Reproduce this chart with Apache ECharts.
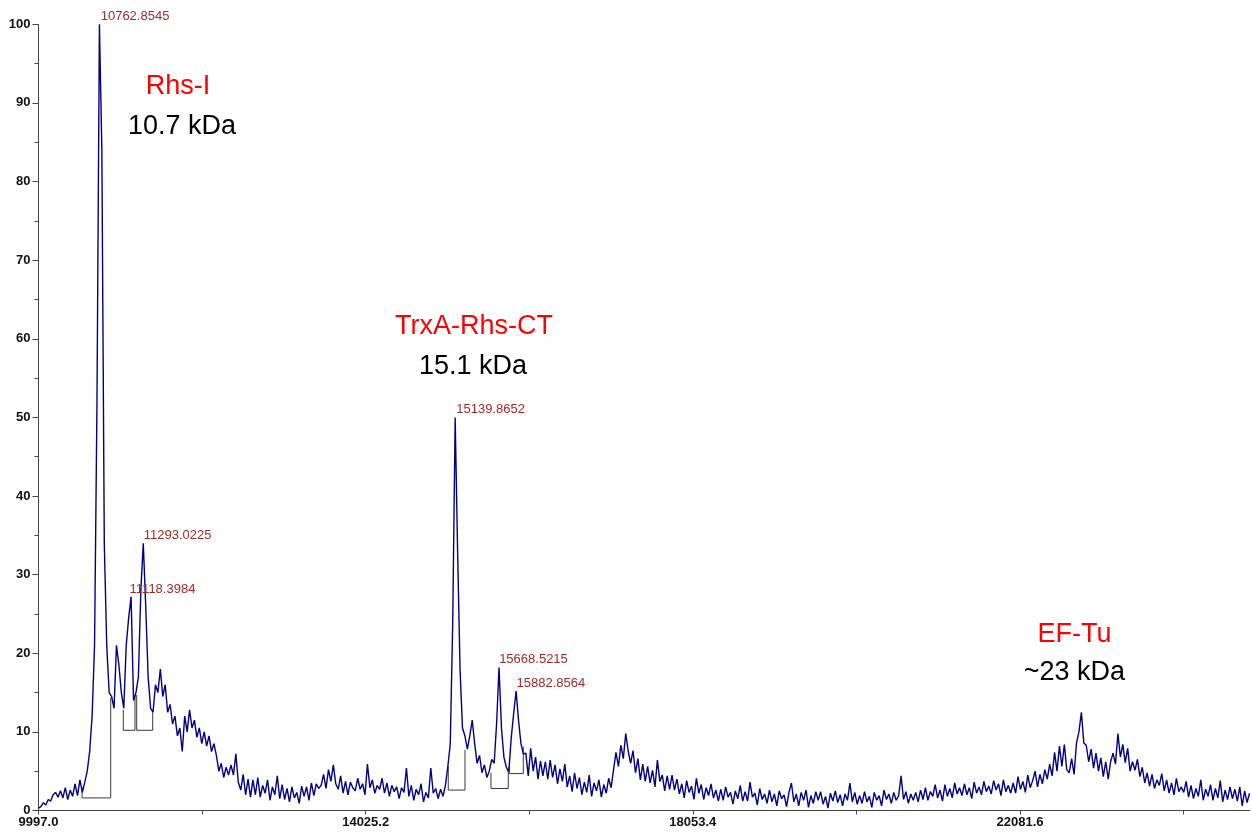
<!DOCTYPE html>
<html><head><meta charset="utf-8">
<script src="https://cdn.jsdelivr.net/npm/echarts@6/dist/echarts.min.js"></script>
<style>html,body{margin:0;padding:0;background:#fff}#c{width:1252px;height:832px}</style>
</head><body><div id="c"></div>
<script>
// m/z sampling of the trace
const mzStart = 9997.0;
const mzStep = 30;
const mzEnd = 24907;
// relative intensity (%), one value per mzStep
const intensity = [
0.3,0.5,1.0,0.7,1.4,1.2,2.0,2.3,1.7,2.5,
1.6,2.9,1.4,2.6,1.8,3.4,1.9,3.9,2.3,3.6,
5.0,7.5,12.0,21.0,52.0,100,84.0,34.0,21.0,15.0,
14.5,13.0,21.0,18.5,15.0,13.0,21.0,24.5,27.2,14.0,
15.0,17.0,28.0,34.0,26.0,17.0,13.0,12.5,16.0,15.0,
18.0,14.5,16.0,12.5,13.5,11.0,12.0,9.5,10.5,7.5,
12.0,10.0,12.8,10.5,11.5,9.3,10.5,8.5,10.0,8.2,
9.5,7.5,8.5,7.0,5.0,6.0,4.2,5.5,4.5,5.8,
4.5,7.2,3.6,2.6,4.6,2.0,4.0,1.7,3.9,2.0,
4.2,1.7,3.2,2.2,3.9,1.3,3.0,2.0,4.4,1.5,
3.3,1.4,2.8,1.1,3.0,1.6,2.3,0.9,3.1,1.8,
3.0,1.3,3.5,1.9,3.4,2.8,3.2,4.6,2.8,5.2,
3.7,5.8,3.4,2.7,4.4,2.2,3.7,2.0,3.6,2.9,
2.5,4.1,2.7,3.4,2.0,5.9,2.9,3.9,2.2,3.2,
2.7,4.1,2.2,3.5,1.8,3.2,2.4,3.0,1.5,2.9,
2.3,5.4,1.8,3.2,1.3,2.7,2.0,3.4,1.1,2.3,
1.6,5.4,2.2,2.8,1.5,2.7,1.8,3.2,5.6,8.5,
24.0,50.0,33.0,18.0,10.5,9.5,7.8,9.5,11.5,8.5,
6.0,7.0,4.8,5.8,4.2,5.0,6.5,6.0,11.0,18.2,
10.5,6.8,5.5,4.9,9.2,12.3,15.2,11.5,8.5,7.2,
7.3,4.4,7.9,5.0,6.8,4.0,6.3,4.4,6.2,4.0,
6.4,4.2,5.8,3.4,5.3,3.7,5.9,3.0,4.4,2.4,
4.8,2.8,4.2,2.0,3.6,2.3,4.5,1.8,3.5,2.5,
3.9,1.7,3.3,2.2,4.1,2.9,5.2,7.4,5.6,8.3,
6.6,9.8,7.6,6.0,7.6,4.8,6.6,3.9,5.9,3.7,
5.6,3.5,5.1,3.0,6.4,3.7,4.5,2.5,4.4,2.7,
4.5,2.6,4.0,2.1,3.4,1.6,3.8,2.3,3.1,1.4,
4.1,2.2,3.3,1.4,2.9,1.9,3.4,1.6,2.6,1.2,
2.7,1.3,3.0,1.7,2.3,0.8,2.5,1.5,3.2,1.2,
2.4,1.2,3.6,1.7,2.2,0.7,2.8,1.4,2.1,0.9,
2.6,1.1,2.1,0.6,2.5,1.5,2.0,0.5,2.3,3.5,
1.1,2.1,0.6,2.3,1.3,2.6,0.4,1.9,0.9,2.4,
1.3,2.4,0.8,1.8,0.3,2.2,1.2,2.5,1.0,2.0,
0.6,2.1,1.3,3.5,1.1,2.3,0.8,1.9,0.9,2.4,
1.1,1.8,0.4,2.3,1.3,1.9,0.6,2.6,1.4,2.1,
0.9,2.3,1.3,1.9,4.4,1.4,2.4,0.9,2.1,1.3,
2.3,1.1,2.6,1.4,2.9,1.3,2.4,1.8,3.3,1.6,
2.6,1.2,3.3,1.8,2.8,1.6,3.5,2.1,2.9,1.9,
3.4,2.0,2.9,1.5,3.6,2.2,3.0,2.0,3.7,2.4,
3.1,2.1,3.8,2.6,3.4,1.9,3.9,2.4,3.2,2.2,
3.5,2.2,4.3,2.7,3.7,2.3,4.5,2.9,3.8,5.0,
3.0,4.6,3.4,5.2,4.0,5.9,4.4,7.4,5.0,8.2,
5.6,8.4,5.2,4.8,6.6,4.6,8.6,10.0,12.5,8.6,
8.3,6.2,7.8,5.4,7.3,5.0,6.7,4.3,6.2,4.0,
6.2,7.3,5.9,9.8,6.8,8.4,6.1,7.9,5.0,6.2,
5.1,6.5,4.3,5.5,3.5,4.8,3.1,4.6,2.8,3.9,
3.2,4.7,2.5,3.9,2.2,3.5,2.0,4.1,2.4,3.0,
2.3,3.7,1.7,3.2,1.5,2.8,1.8,3.9,1.3,2.7,
1.8,3.3,1.3,2.8,1.6,3.8,1.1,2.6,1.4,3.0,
1.5,2.7,1.2,3.0,0.6,2.5,1.0,2.2
];
// x-axis tick spacing (every second tick labelled)
const xTickStep = 2014.1;
// labelled peaks
const peakMz = [10762.8545, 11118.3984, 11293.0225, 15139.8652, 15668.5215, 15882.8564];
const peakIntensity = [100, 27.2, 34.0, 50.0, 18.2, 15.2];
// integration boxes under peaks
const boxLeftMz   = [10533, 11041, 11206, 15042, 15568, 15793];
const boxRightMz  = [10886, 11185, 11403, 15248, 15781, 15966];
const boxBase     = [1.6, 10.2, 10.2, 2.6, 2.8, 4.7];
const boxLeftTop  = [3.0, 12.8, 14.7, 5.6, 4.8, 5.6];
const boxRightTop = [14.3, 14.7, 12.5, 7.7, 5.4, 8.1];
// annotations
const annoText = ['Rhs-I', '10.7 kDa', 'TrxA-Rhs-CT', '15.1 kDa', 'EF-Tu', '~23 kDa'];
const annoKind = ['name', 'mass', 'name', 'mass', 'name', 'mass'];
const annoMz   = [11714, 11764, 15359, 15347, 22752, 22752];
const annoY    = [92.06, 86.97, 61.54, 56.45, 22.32, 17.58];

const FONT = 'Liberation Sans, Arial, sans-serif';
const chart = echarts.init(document.getElementById('c'), null, {renderer: 'canvas'});

const series = [];
boxLeftMz.forEach((l, i) => {
  series.push({
    type: 'line', silent: true, symbol: 'none', z: 1,
    lineStyle: {color: '#3a3a3a', width: 1},
    data: [[l, boxLeftTop[i]], [l, boxBase[i]], [boxRightMz[i], boxBase[i]], [boxRightMz[i], boxRightTop[i]]]
  });
});
series.push({
  type: 'line', name: 'spectrum', symbol: 'none', showSymbol: false, z: 2,
  sampling: null,
  lineStyle: {color: '#000080', width: 1.4},
  data: intensity.map((v, i) => [mzStart + i * mzStep, v])
});
series.push({
  type: 'scatter', symbolSize: 0, z: 3, silent: true,
  itemStyle: {opacity: 1},
  data: peakMz.map((m, i) => [m, peakIntensity[i]]),
  label: {
    show: true, position: [0, 0], align: 'left', verticalAlign: 'bottom', offset: [0, -1],
    formatter: p => p.value[0].toFixed(4),
    color: '#a52a2a', fontSize: 13, fontFamily: FONT, opacity: 1
  }
});
series.push({
  type: 'scatter', symbolSize: 0, z: 3, silent: true,
  itemStyle: {opacity: 1},
  data: annoText.map((t, i) => ({
    name: t, value: [annoMz[i], annoY[i]],
    label: {color: annoKind[i] === 'name' ? '#ff0000' : '#000000'}
  })),
  label: {
    show: true, position: 'inside', align: 'center', verticalAlign: 'middle',
    formatter: p => p.name, fontSize: 27, fontFamily: FONT, opacity: 1
  }
});

chart.setOption({
  animation: false,
  backgroundColor: '#ffffff',
  grid: {left: 38.5, right: 2.5, top: 24.3, bottom: 21.5, containLabel: false},
  xAxis: {
    type: 'value', min: mzStart, max: mzEnd, interval: xTickStep,
    axisLine: {show: true, lineStyle: {color: '#444', width: 1}},
    axisTick: {show: true, length: 4, lineStyle: {color: '#444'}},
    splitLine: {show: false},
    axisLabel: {
      show: true, showMaxLabel: false, showMinLabel: true, hideOverlap: false,
      margin: 5, fontSize: 13, fontWeight: 'bold', color: '#111', fontFamily: FONT,
      formatter: v => (Math.round((v - mzStart) / xTickStep) % 2 === 0 ? v.toFixed(1) : '')
    }
  },
  yAxis: {
    type: 'value', min: 0, max: 100, interval: 10,
    axisLine: {show: true, lineStyle: {color: '#444', width: 1}},
    axisTick: {show: true, length: 6, lineStyle: {color: '#444'}},
    minorTick: {show: true, splitNumber: 2, length: 4, lineStyle: {color: '#444'}},
    splitLine: {show: false},
    minorSplitLine: {show: false},
    axisLabel: {margin: 8, fontSize: 13, fontWeight: 'bold', color: '#111', fontFamily: FONT}
  },
  series: series
});
</script></body></html>
